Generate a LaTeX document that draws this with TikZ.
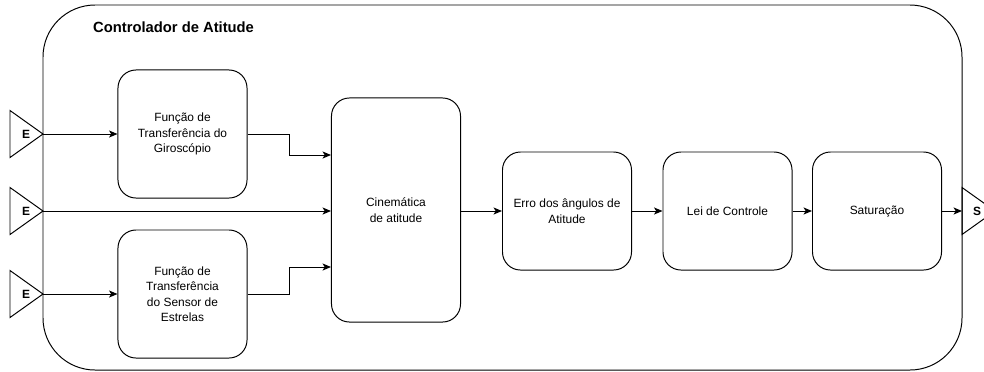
\documentclass[tikz,border=0pt]{standalone}
\usepackage{fontspec}
\setmainfont{Liberation Sans}
\usetikzlibrary{arrows.meta,calc}
\begin{document}
\begin{tikzpicture}[x=0.025cm,y=-0.025cm,line width=0.7pt,
        font=\fontsize{8.5}{11}\selectfont,
        blk/.style={draw,rounded corners=0.45cm,minimum width=3.225cm,align=center,inner sep=2pt},
        arr/.style={-{Stealth[length=6pt,width=5pt,inset=1.5pt]}},
        port/.style={font=\fontsize{8.5}{10}\selectfont\bfseries,inner sep=0pt}]
    \useasboundingbox (0,0) rectangle (984,371);
    \draw[rounded corners=1.3cm] (43,5) rectangle (962,370);
    \node[anchor=west,font=\fontsize{10.5}{12}\selectfont\bfseries] (title) at (88,27) {Controlador de Atitude};
    % entradas
    \foreach \n/\y in {e1/134,e2/211,e3/294}{
        \coordinate (\n) at (43,\y);
        \draw (\n) -- ++(-33,-23.5) -- ++(0,47) -- cycle;
        \node[port] (\n l) at (26,\y) {E};
    }
    % blocos
    \node[blk,minimum height=3.2cm] (gyro) at (182.5,134) {Função de\\Transferência do\\Giroscópio};
    \node[blk,minimum height=3.2cm] (star) at (182.5,294) {Função de\\Transferência\\do Sensor de\\Estrelas};
    \node[blk,minimum height=5.6cm] (cin) at (396,210) {Cinemática\\de atitude};
    \node[blk,minimum height=2.95cm] (erro) at (567,211) {Erro dos ângulos de\\Atitude};
    \node[blk,minimum height=2.95cm] (lei) at (727.5,211) {Lei de Controle};
    \node[blk,minimum height=2.95cm] (sat) at (877,211) {Saturação};
    % saida
    \coordinate (s) at (962,211);
    \draw (s) -- ++(0,-23.5) -- ++(33,23.5) -- ++(-33,23.5) -- cycle;
    \node[port] (s l) at (977,211) {S};
    % ligacoes
    \draw[arr] (e1) -- (gyro.west);
    \draw[arr] (e3) -- (star.west);
    \draw[arr] (e2) -- (cin.west |- e2);
    \draw[arr] (gyro.east) -- ++(42,0) |- ($(cin.west)+(0,-55)$);
    \draw[arr] (star.east) -- ++(42,0) |- ($(cin.west)+(0,57)$);
    \draw[arr] (cin.east |- erro) -- (erro.west);
    \draw[arr] (erro) -- (lei);
    \draw[arr] (lei) -- (sat);
    \draw[arr] (sat) -- (s);
\end{tikzpicture}
\end{document}
